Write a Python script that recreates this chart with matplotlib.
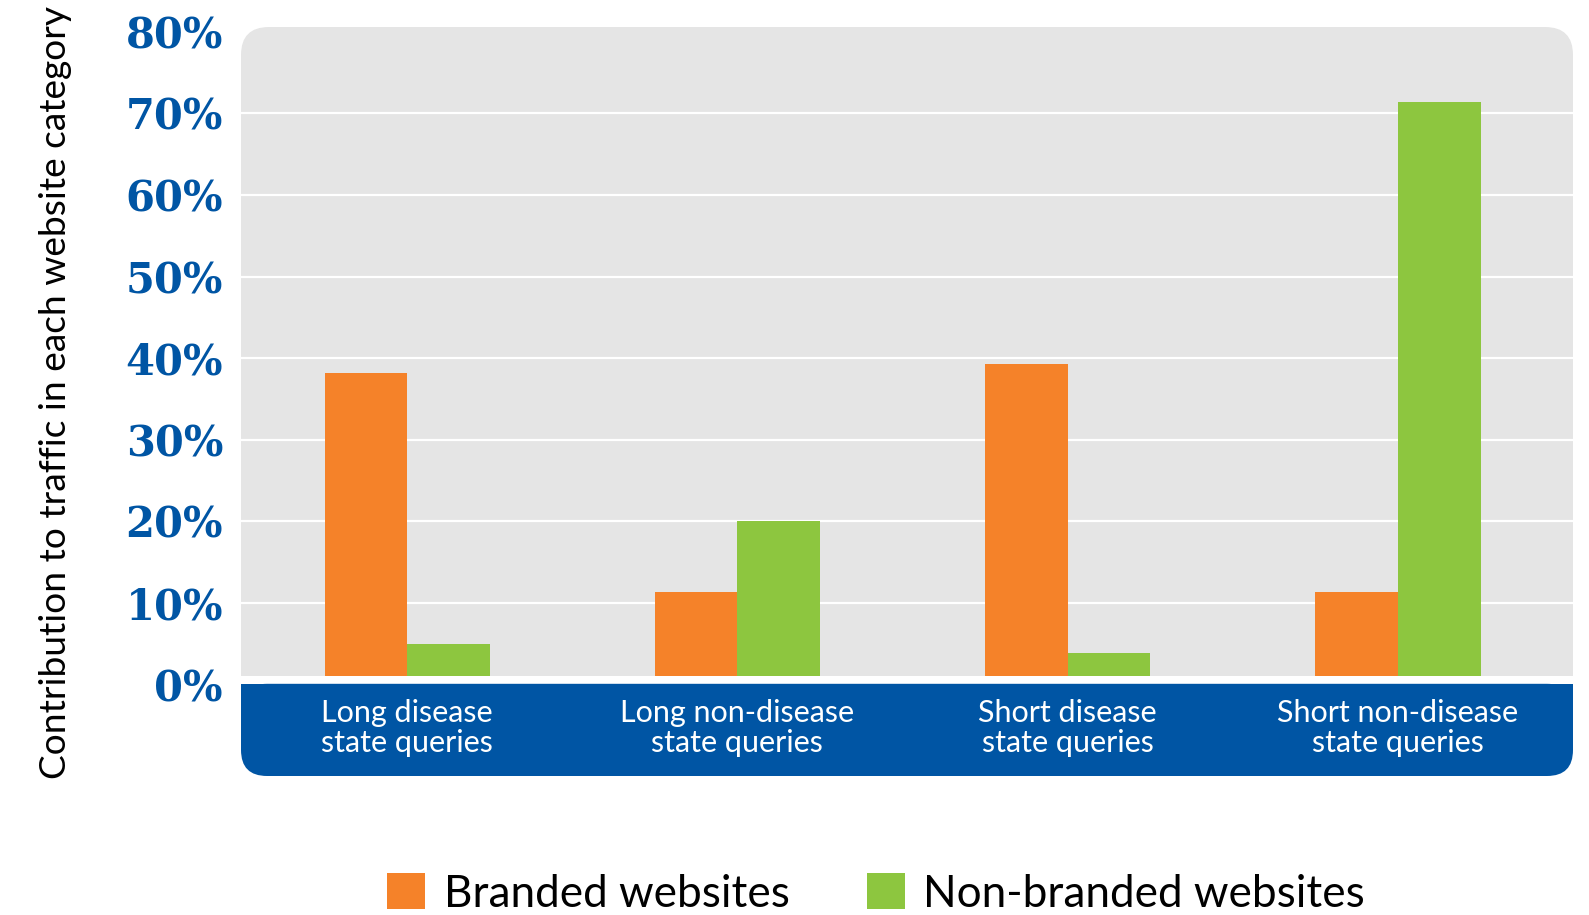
import matplotlib
matplotlib.use("Agg")
import matplotlib.pyplot as plt
import matplotlib.patches as mpatches
from matplotlib.transforms import blended_transform_factory
import numpy as np

# data (percent)
categories = ["Long disease\nstate queries", "Long non-disease\nstate queries",
              "Short disease\nstate queries", "Short non-disease\nstate queries"]
branded = [38.2, 11.4, 39.3, 11.4]
non_branded = [5.0, 20.0, 3.9, 71.4]
series_names = ["Branded websites", "Non-branded websites"]
y_ticks = [0, 10, 20, 30, 40, 50, 60, 70, 80]

ORANGE = "#F58229"
GREEN = "#8DC63F"
BLUE = "#0055A4"
PANEL = "#E5E5E5"
TEXT_FONT = ["Lato", "DejaVu Sans"]

W, H = 1589, 915
fig = plt.figure(figsize=(W / 100, H / 100), dpi=100)

# axes box in pixels: left, top, right, bottom
ax_l, ax_t, ax_r, ax_b = 241, 27, 1573, 776
ax = fig.add_axes([ax_l / W, 1 - ax_b / H, (ax_r - ax_l) / W, (ax_b - ax_t) / H])
ax.set_facecolor("none")
for s in ax.spines.values():
    s.set_visible(False)

ymin, ymax = -11.2, 80.6
ax.set_ylim(ymin, ymax)
ax.set_xlim(-0.503, 3.53)

ax_w_px = ax_r - ax_l
ax_h_px = ax_b - ax_t
aspect = ax_w_px / ax_h_px


def ay(v):
    return (v - ymin) / (ymax - ymin)


# grey panel, rounded on top (bottom hidden under the band)
r = 28 / ax_w_px
grey = mpatches.FancyBboxPatch((0, ay(-5)), 1, 1 - ay(-5),
                               boxstyle=f"round,pad=0,rounding_size={r}",
                               mutation_aspect=aspect, transform=ax.transAxes,
                               facecolor=PANEL, edgecolor="none", zorder=0)
ax.add_patch(grey)

# white gridlines
for t in y_ticks[1:-1]:
    ax.axhline(t, color="white", lw=1.6, zorder=1)

x = np.arange(len(categories))
width = 0.25
b1 = ax.bar(x - width / 2, branded, width, color=ORANGE, zorder=2, label=series_names[0])
b2 = ax.bar(x + width / 2, non_branded, width, color=GREEN, zorder=2, label=series_names[1])

# white strip at the base and the blue category band
ax.add_patch(mpatches.Rectangle((0, ay(0)), 1, ay(1.0) - ay(0), transform=ax.transAxes,
                                facecolor="white", edgecolor="none", zorder=3))
rb = 26 / ax_w_px
ax.add_patch(mpatches.FancyBboxPatch((0, 0), 1, ay(0.1), boxstyle=f"round,pad=0,rounding_size={rb}",
                                     mutation_aspect=aspect, transform=ax.transAxes,
                                     facecolor=BLUE, edgecolor="none", zorder=3))
ax.add_patch(mpatches.Rectangle((0, ay(-5)), 1, ay(0.1) - ay(-5), transform=ax.transAxes,
                                facecolor=BLUE, edgecolor="none", zorder=3))

trans = blended_transform_factory(ax.transData, ax.transAxes)
for xi, cat in zip(x, categories):
    ax.text(xi, ay(-5.3), cat, transform=trans, ha="center", va="center",
            color="white", fontsize=22, family=TEXT_FONT, linespacing=1.1, zorder=4)

ax.set_xticks([])
ax.set_yticks(y_ticks)
ax.set_yticklabels([f"{t}%" for t in y_ticks], fontsize=30, fontweight="bold",
                   color=BLUE, family="DejaVu Serif")
ax.tick_params(axis="y", length=0, pad=13)

fig.text(56 / W, 1 - 392 / H, "Contribution to traffic in each website category",
         rotation=90, ha="center", va="center", fontsize=26.7, family=TEXT_FONT, color="black")

fig.legend(handles=[b1, b2], loc="center", bbox_to_anchor=(876 / W, 1 - 894 / H),
           ncol=2, frameon=False, prop={"family": TEXT_FONT, "size": 31.8},
           handlelength=0.86, handleheight=0.86, handletextpad=0.42, columnspacing=1.75)

fig.savefig("out.png", dpi=100)
